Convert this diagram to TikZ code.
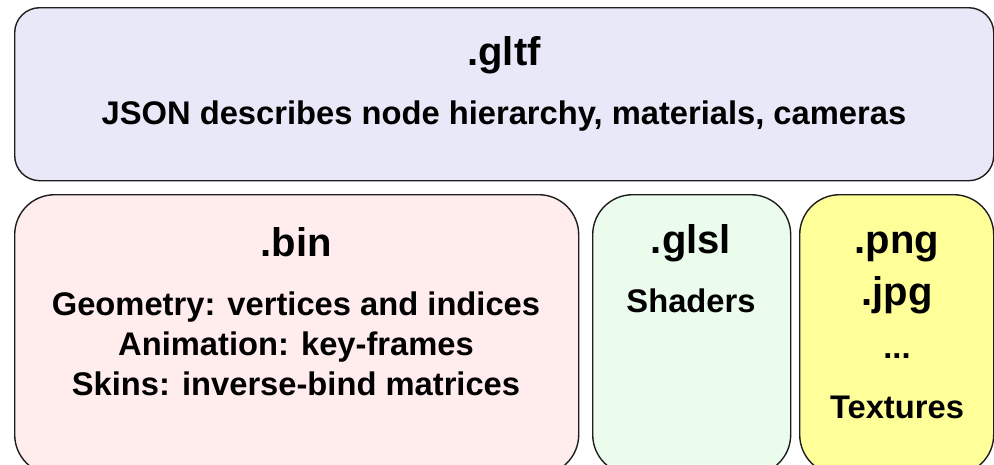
\documentclass[tikz,border=0pt]{standalone}
\usepackage{fontspec}
\setmainfont{Liberation Sans}
\usepackage{tikz}

\definecolor{gltffill}{RGB}{232,232,248}
\definecolor{binfill}{RGB}{255,236,236}
\definecolor{glslfill}{RGB}{236,252,236}
\definecolor{imgfill}{RGB}{255,255,153}
\definecolor{edge}{RGB}{30,30,30}

\tikzset{
  filebox/.style={draw=edge,line width=1.4pt,rectangle,inner sep=0pt,anchor=north west},
  ext/.style={anchor=base,inner sep=0pt,font=\bfseries\fontsize{40}{48}\selectfont},
  desc/.style={anchor=base,inner sep=0pt,font=\bfseries\fontsize{32.7}{40}\selectfont}
}

\begin{document}
\begin{tikzpicture}[x=1pt,y=-1pt]
\useasboundingbox (0,0) rectangle (994,464);
\clip (0,0) rectangle (994,464);

\node[filebox,fill=gltffill,rounded corners=25pt,minimum width=979pt,minimum height=173pt] (gltfbox) at (14,7) {};
\node[filebox,fill=binfill,rounded corners=40pt,minimum width=564pt,minimum height=280pt] (binbox) at (14,194) {};
\node[filebox,fill=glslfill,rounded corners=40pt,minimum width=198pt,minimum height=280pt] (glslbox) at (592,194) {};
\node[filebox,fill=imgfill,rounded corners=40pt,minimum width=194pt,minimum height=280pt] (imgbox) at (799,194) {};

\node[ext] (gltf) at (504,65) {.gltf};
\node[desc] (json) at (504,124) {JSON describes node hierarchy, materials, cameras};

\node[ext] (bin) at (296,256) {.bin};
\node[desc] (geom) at (296,315) {Geometry: vertices and indices};
\node[desc] (anim) at (296,355) {Animation: key-frames};
\node[desc] (skin) at (296,395) {Skins: inverse-bind matrices};

\node[ext] (glsl) at (691,253) {.glsl};
\node[desc] (shaders) at (691,312) {Shaders};

\node[ext] (png) at (897,253) {.png};
\node[ext] (jpg) at (897,305) {.jpg};
\node[desc] (more) at (897,358) {...};
\node[desc] (tex) at (897,418) {Textures};
\end{tikzpicture}
\end{document}
